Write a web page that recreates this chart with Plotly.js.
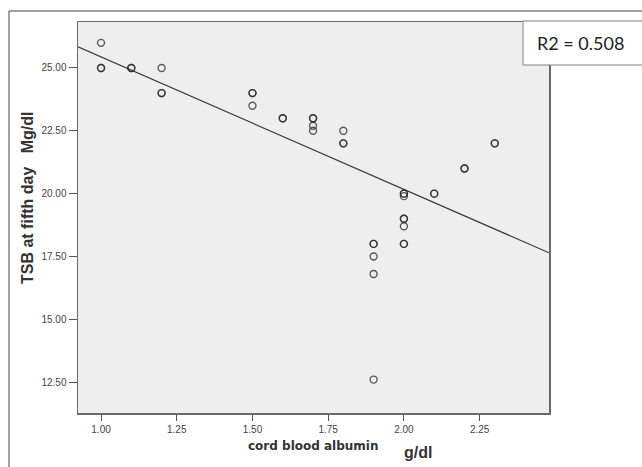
<!DOCTYPE html>
<html>
<head>
<meta charset="utf-8">
<script src="https://cdn.plot.ly/plotly-3.0.1.min.js"></script>
<style>
html,body{margin:0;padding:0;background:#fff;}
#chart{width:642px;height:467px;}
</style>
</head>
<body>
<div id="chart"></div>
<script>
// cord blood albumin (g/dl)
const albumin = [1.0, 1.0, 1.0, 1.1, 1.1, 1.2, 1.2, 1.2,
                 1.5, 1.5, 1.5, 1.6, 1.6, 1.7, 1.7, 1.7, 1.7,
                 1.8, 1.8, 1.8, 1.9, 1.9, 1.9, 1.9, 1.9,
                 2.0, 2.0, 2.0, 2.0, 2.0, 2.0, 2.0, 2.0,
                 2.1, 2.1, 2.2, 2.2, 2.3, 2.3];
// TSB at fifth day (Mg/dl)
const tsb =     [26.0, 25.0, 25.0, 25.0, 25.0, 25.0, 24.0, 24.0,
                 24.0, 24.0, 23.5, 23.0, 23.0, 23.0, 23.0, 22.7, 22.5,
                 22.5, 22.0, 22.0, 18.0, 18.0, 17.5, 16.8, 12.6,
                 20.0, 20.0, 19.9, 19.0, 19.0, 18.7, 18.0, 18.0,
                 20.0, 20.0, 21.0, 21.0, 22.0, 22.0];
// fitted line
const fitIntercept = 30.71;
const fitSlope = -5.27;
const rSquaredText = "R2 = 0.508";
const xTickVals = [1.00, 1.25, 1.50, 1.75, 2.00, 2.25];
const xTickText = ["1.00", "1.25", "1.50", "1.75", "2.00", "2.25"];
const yTickVals = [12.5, 15.0, 17.5, 20.0, 22.5, 25.0];
const yTickText = ["12.50", "15.00", "17.50", "20.00", "22.50", "25.00"];

const xRange = [0.924, 2.479];
const yRange = [11.27, 26.83];
const fitX = xRange.slice();
const fitY = fitX.map(x => fitIntercept + fitSlope * x);

const traces = [
  {
    x: fitX, y: fitY, type: 'scatter', mode: 'lines',
    line: {color: '#3a3a3a', width: 1.2}, hoverinfo: 'skip', showlegend: false
  },
  {
    x: albumin, y: tsb, type: 'scatter', mode: 'markers',
    marker: {symbol: 'circle-open', size: 7, color: 'rgba(40,40,40,0.75)', line: {width: 1.4}},
    showlegend: false
  }
];

const W = 642, H = 467, L = 78, R = 93, T = 22, B = 54;
const pw = W - L - R, ph = H - T - B;
const px = v => (v - L) / pw;
const py = v => (H - B - v) / ph;

const layout = {
  width: W, height: H,
  margin: {l: L, r: R, t: T, b: B},
  paper_bgcolor: '#ffffff',
  plot_bgcolor: '#eeeeee',
  font: {family: 'Liberation Sans, Arial, sans-serif', color: '#333'},
  xaxis: {
    range: xRange, tickvals: xTickVals, ticktext: xTickText,
    ticks: 'outside', ticklen: 6, tickcolor: '#555', tickwidth: 1,
    tickfont: {size: 10, color: '#444'},
    showgrid: false, zeroline: false,
    showline: true, linecolor: '#6a6a6a', linewidth: 1.5, mirror: true,
    title: {text: ''}
  },
  yaxis: {
    range: yRange, tickvals: yTickVals, ticktext: yTickText,
    ticks: 'outside', ticklen: 8, tickcolor: '#555', tickwidth: 1,
    tickfont: {size: 10, color: '#444'},
    showgrid: false, zeroline: false,
    showline: true, linecolor: '#6a6a6a', linewidth: 1.5, mirror: true,
    title: {text: ''}
  },
  shapes: [
    {type: 'rect', xref: 'paper', yref: 'paper',
     x0: px(9), x1: px(660), y0: py(480), y1: py(11),
     line: {color: '#444', width: 1}, fillcolor: 'rgba(0,0,0,0)', layer: 'below'},
    {type: 'rect', xref: 'paper', yref: 'paper',
     x0: px(523), x1: px(660), y0: py(65), y1: py(21),
     line: {color: '#808080', width: 1}, fillcolor: '#ffffff', layer: 'above'}
  ],
  annotations: [
    {xref: 'paper', yref: 'paper', x: px(535), y: py(43), xanchor: 'left', yanchor: 'middle',
     text: rSquaredText, showarrow: false, align: 'left',
     font: {family: 'Lato, Open Sans, sans-serif', size: 18, color: '#222'}},
    {xref: 'paper', yref: 'paper', x: px(313), y: py(446), xanchor: 'center', yanchor: 'middle',
     text: '<b>cord blood albumin</b>', showarrow: false,
     font: {family: 'DejaVu Sans, sans-serif', size: 12, color: '#333'}},
    {xref: 'paper', yref: 'paper', x: px(418), y: py(452), xanchor: 'center', yanchor: 'middle',
     text: '<b>g/dl</b>', showarrow: false,
     font: {family: 'Liberation Sans, sans-serif', size: 16, color: '#333'}},
    {xref: 'paper', yref: 'paper', x: px(27), y: py(198), xanchor: 'center', yanchor: 'middle',
     text: '<b>TSB at fifth day   Mg/dl</b>', showarrow: false, textangle: -90,
     font: {family: 'Liberation Sans, sans-serif', size: 16, color: '#333'}}
  ]
};

Plotly.newPlot('chart', traces, layout, {staticPlot: true, displayModeBar: false});
</script>
</body>
</html>
